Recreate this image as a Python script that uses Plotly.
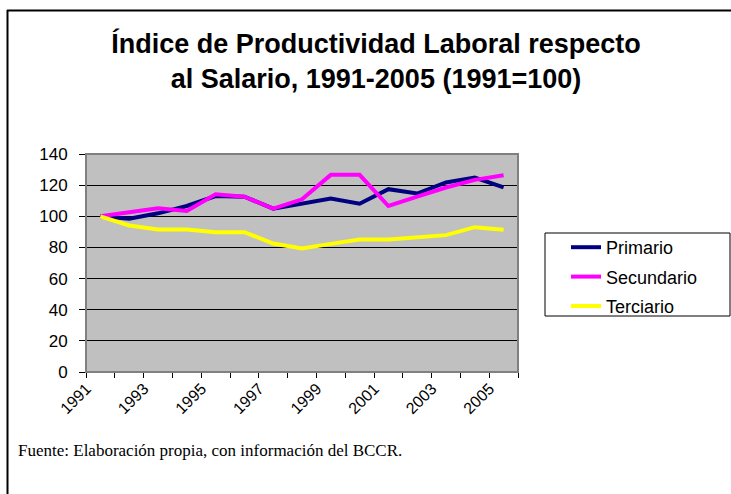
import plotly.graph_objects as go

# Índice de productividad laboral respecto al salario (1991=100)
years = [str(y) for y in range(1991, 2006)]
primario = [100, 98.4, 101.9, 106.6, 113.0, 112.6, 104.9, 108.3, 111.4, 108.1, 117.4, 114.6, 121.7, 124.9, 118.5]
secundario = [100, 102.7, 105.1, 103.4, 114.1, 112.6, 104.9, 110.9, 126.6, 126.6, 106.6, 112.6, 118.5, 123.4, 126.4]
terciario = [100, 94.1, 91.5, 91.5, 89.8, 89.8, 82.5, 79.3, 82.3, 85.1, 85.1, 86.8, 87.9, 93.0, 91.3]

series = [
    ("Primario", primario, "#000080"),
    ("Secundario", secundario, "#FF00FF"),
    ("Terciario", terciario, "#FFFF00"),
]

W, H = 731, 494
L, R, T, B = 86, 518, 154, 372  # plot area in pixels


def px_x(p):
    return (p - L) / (R - L)


def px_y(p):
    return (B - p) / (B - T)


xs = list(range(len(years)))
fig = go.Figure()
for name, vals, color in series:
    fig.add_trace(go.Scatter(
        x=xs, y=vals, name=name, mode="lines",
        line=dict(color=color, width=4),
        legendgroup=name,
    ))

label_idx = xs[::2]
fig.update_layout(
    width=W, height=H,
    margin=dict(l=L, r=W - R, t=T, b=H - B),
    paper_bgcolor="white",
    plot_bgcolor="#C0C0C0",
    font=dict(family="Liberation Sans, Arial, sans-serif", color="black"),
    title=dict(
        text="Índice de Productividad Laboral respecto<br>al Salario, 1991-2005 (1991=100)",
        x=376 / W, xref="container", xanchor="center",
        y=1 - 53 / H, yref="container", yanchor="middle",
        font=dict(size=27, family="Liberation Sans, Arial, sans-serif", color="black", weight="bold"),
    ),
    xaxis=dict(
        range=[-0.5, len(years) - 0.5],
        tickvals=label_idx,
        ticktext=[years[i] for i in label_idx],
        tickangle=-45,
        ticks="",
        ticklabelshift=-14,
        tickfont=dict(size=16),
        showgrid=False, zeroline=False,
        showline=True, linecolor="black", linewidth=1,
        minor=dict(tickvals=[i - 0.5 for i in range(len(years) + 1)], ticks="outside",
                   ticklen=5, tickcolor="black", showgrid=False),
    ),
    yaxis=dict(
        range=[0, 140], dtick=20,
        ticks="outside", ticklen=6, tickcolor="black",
        ticklabelstandoff=8,
        tickfont=dict(size=17),
        showgrid=True, gridcolor="black", gridwidth=1,
        zeroline=False,
        showline=True, linecolor="black", linewidth=1,
    ),
    legend=dict(
        x=px_x(566), y=px_y(229), xanchor="left", yanchor="top",
        borderwidth=0, bgcolor="rgba(0,0,0,0)",
        font=dict(size=18), tracegroupgap=3,
    ),
    showlegend=True,
)

# legend frame
fig.add_shape(type="rect", xref="paper", yref="paper",
              x0=px_x(545), x1=px_x(730), y0=px_y(233), y1=px_y(316),
              line=dict(color="black", width=1), fillcolor="white", layer="below")
# plot area border (top/right) and outer chart frame
fig.add_shape(type="rect", xref="paper", yref="paper", x0=0, x1=1, y0=0, y1=1,
              line=dict(color="#808080", width=2), layer="above")
fig.add_shape(type="line", xref="paper", yref="paper",
              x0=px_x(7), x1=px_x(731), y0=px_y(10.5), y1=px_y(10.5),
              line=dict(color="black", width=2))
fig.add_shape(type="line", xref="paper", yref="paper",
              x0=px_x(7.5), x1=px_x(7.5), y0=px_y(10), y1=px_y(494),
              line=dict(color="black", width=2))

fig.add_annotation(
    text="Fuente: Elaboración propia, con información del BCCR.",
    xref="paper", yref="paper", x=px_x(16), y=px_y(450),
    xanchor="left", yanchor="middle", showarrow=False,
    font=dict(family="Liberation Serif, Times New Roman, serif", size=17, color="black"),
)

fig.write_html("out.html", config={"displayModeBar": False},
               post_script="document.body.style.margin='0';")
